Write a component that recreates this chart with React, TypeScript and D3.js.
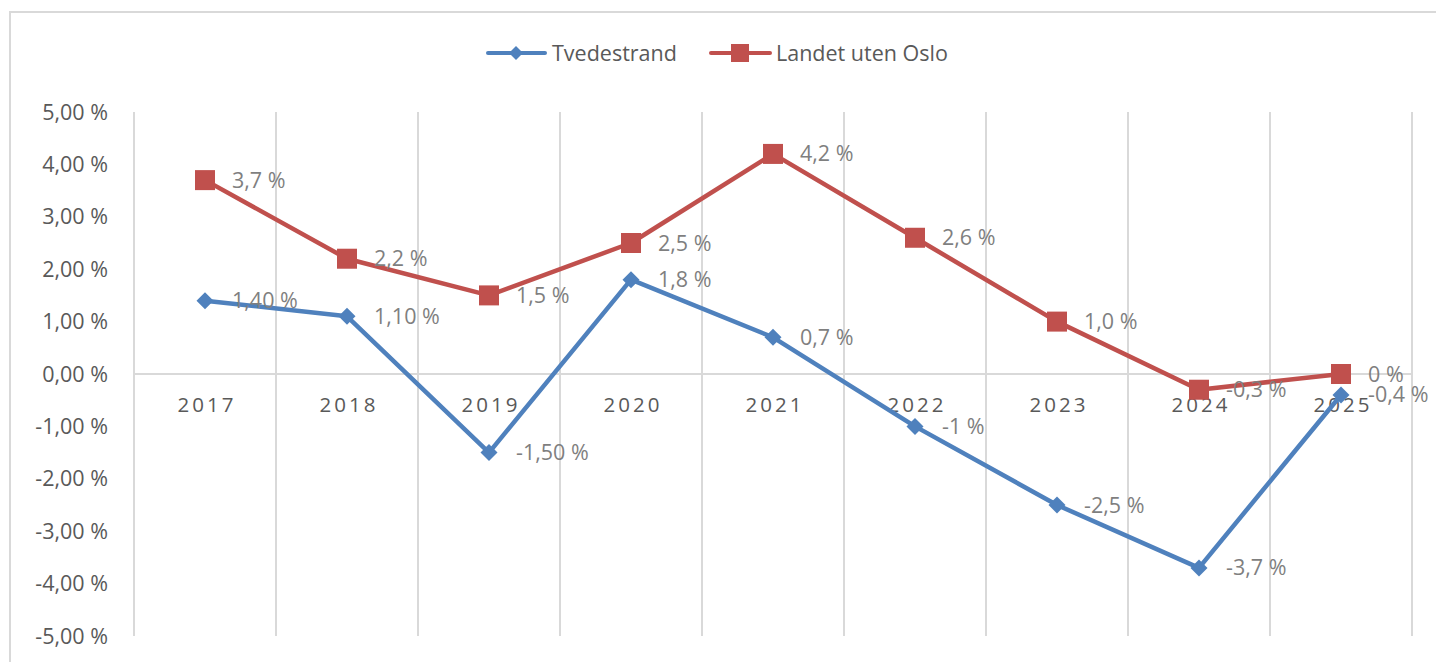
import React from "react";
import * as d3 from "d3";

const years = ["2017", "2018", "2019", "2020", "2021", "2022", "2023", "2024", "2025"];
const tvedestrand = [1.4, 1.1, -1.5, 1.8, 0.7, -1, -2.5, -3.7, -0.4];
const tvedestrandLabels = ["1,40 %", "1,10 %", "-1,50 %", "1,8 %", "0,7 %", "-1 %", "-2,5 %", "-3,7 %", "-0,4 %"];
const landet = [3.7, 2.2, 1.5, 2.5, 4.2, 2.6, 1.0, -0.3, 0];
const landetLabels = ["3,7 %", "2,2 %", "1,5 %", "2,5 %", "4,2 %", "2,6 %", "1,0 %", "-0,3 %", "0 %"];
const yTicks = [5, 4, 3, 2, 1, 0, -1, -2, -3, -4, -5];

const BLUE = "#4f81bd";
const RED = "#c0504d";
const GRID = "#d9d9d9";
const FONT = "'Open Sans', Lato, sans-serif";
const FS = 21.5;

const App = () => {
  const width = 1436;
  const height = 662;

  const x = d3.scaleBand<string>().domain(years).range([134, 1412]).padding(0);
  const y = d3.scaleLinear().domain([-5, 5]).range([636, 112]);
  const cx = (d: string) => (x(d) as number) + x.bandwidth() / 2;

  const line = d3
    .line<number>()
    .x((_, i) => cx(years[i]))
    .y((d) => y(d));

  // vertical gridlines sit on the category boundaries
  const gridX = years.map((d) => x(d) as number).concat([x.range()[1]]);

  const fmtTick = (v: number) => v.toFixed(2).replace(".", ",") + " %";

  const diamond = (px: number, py: number, r: number) =>
    `M${px},${py - r}L${px + r},${py}L${px},${py + r}L${px - r},${py}Z`;

  return (
    <svg
      width={width}
      height={height}
      style={{ position: "absolute", left: 0, top: 0, background: "#fff" }}
      fontFamily={FONT}
    >
      <rect x={10} y={12} width={1500} height={700} fill="#fff" stroke={GRID} strokeWidth={2} />

      {/* legend */}
      <g>
        <line x1={488} x2={545} y1={53} y2={53} stroke={BLUE} strokeWidth={4} strokeLinecap="round" />
        <path d={diamond(516, 53, 7)} fill={BLUE} />
        <text x={552} y={53} dy="0.35em" fontSize={FS} fill="#595959">Tvedestrand</text>
        <line x1={711} x2={770} y1={53} y2={53} stroke={RED} strokeWidth={4} strokeLinecap="round" />
        <rect x={731} y={44} width={18} height={18} fill={RED} />
        <text x={776} y={53} dy="0.35em" fontSize={FS} fill="#595959">Landet uten Oslo</text>
      </g>

      {/* gridlines */}
      {gridX.map((gx, i) => (
        <line key={i} x1={gx} x2={gx} y1={y(5)} y2={y(-5)} stroke={GRID} strokeWidth={2} />
      ))}
      <line x1={x.range()[0]} x2={x.range()[1]} y1={y(0)} y2={y(0)} stroke={GRID} strokeWidth={2} />

      {/* y axis labels */}
      {yTicks.map((t) => (
        <text key={t} x={108} y={y(t)} dy="0.35em" textAnchor="end" fontSize={FS} fill="#595959">
          {fmtTick(t)}
        </text>
      ))}

      {/* x axis labels */}
      {years.map((yr) => (
        <text
          key={yr}
          x={cx(yr) + 2}
          y={y(0) + 31}
          dy="0.35em"
          textAnchor="middle"
          fontSize={FS - 1}
          letterSpacing={3}
          fill="#595959"
        >
          {yr}
        </text>
      ))}

      {/* series */}
      <path d={line(landet) || ""} fill="none" stroke={RED} strokeWidth={4.5} strokeLinejoin="round" />
      <path d={line(tvedestrand) || ""} fill="none" stroke={BLUE} strokeWidth={4.5} strokeLinejoin="round" />

      {landet.map((v, i) => (
        <rect key={"l" + i} x={cx(years[i]) - 10} y={y(v) - 10} width={20} height={20} fill={RED} />
      ))}
      {tvedestrand.map((v, i) => (
        <path key={"t" + i} d={diamond(cx(years[i]), y(v), 8.5)} fill={BLUE} />
      ))}

      {/* data labels */}
      {landet.map((v, i) => (
        <text key={"ll" + i} x={cx(years[i]) + 27} y={y(v)} dy="0.35em" fontSize={FS} fill="#7f7f7f">
          {landetLabels[i]}
        </text>
      ))}
      {tvedestrand.map((v, i) => (
        <text key={"tl" + i} x={cx(years[i]) + 27} y={y(v)} dy="0.35em" fontSize={FS} fill="#7f7f7f">
          {tvedestrandLabels[i]}
        </text>
      ))}
    </svg>
  );
};

export default App;
